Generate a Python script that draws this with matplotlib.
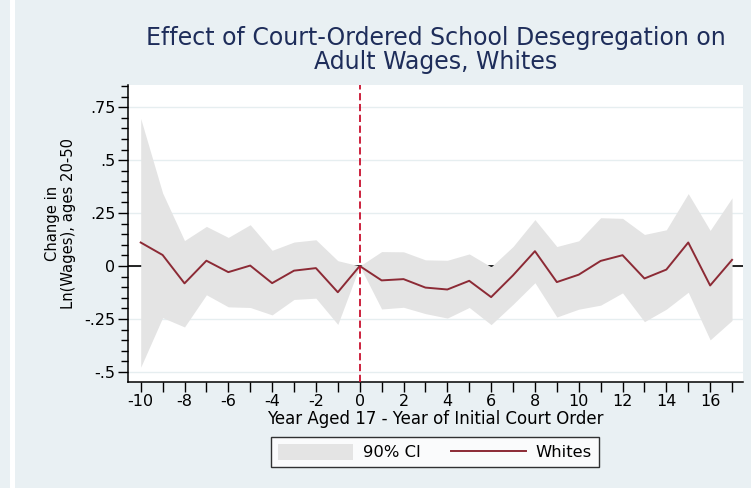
import matplotlib
matplotlib.use("Agg")
import matplotlib.pyplot as plt
from matplotlib.patches import Rectangle, Patch
from matplotlib.lines import Line2D
from matplotlib.ticker import FixedLocator, FixedFormatter, MultipleLocator

plt.rcParams["font.family"] = ["DejaVu Sans"]
plt.rcParams["axes.unicode_minus"] = False

# Event-time relative to initial court order
years = list(range(-10, 18))

# Point estimates (Whites)
estimate = [0.111, 0.052, -0.082, 0.025, -0.029, 0.002, -0.081, -0.022, -0.010, -0.124,
            0.000, -0.068, -0.062, -0.102, -0.111, -0.070, -0.147, -0.044, 0.070, -0.076,
            -0.041, 0.024, 0.051, -0.059, -0.017, 0.111, -0.092, 0.029]

# 90% confidence bounds
ci_upper = [0.697, 0.345, 0.120, 0.187, 0.135, 0.195, 0.074, 0.113, 0.124, 0.025,
            0.000, 0.068, 0.067, 0.029, 0.027, 0.057, -0.004, 0.092, 0.219, 0.092,
            0.119, 0.228, 0.225, 0.149, 0.171, 0.342, 0.168, 0.322]
ci_lower = [-0.478, -0.244, -0.288, -0.136, -0.193, -0.196, -0.231, -0.158, -0.152, -0.276,
            0.000, -0.203, -0.195, -0.225, -0.246, -0.196, -0.277, -0.181, -0.079, -0.241,
            -0.204, -0.185, -0.127, -0.263, -0.204, -0.124, -0.349, -0.257]

y_ticks = [-0.5, -0.25, 0, 0.25, 0.5, 0.75]
y_tick_labels = ["-.5", "-.25", "0", ".25", ".5", ".75"]
x_ticks = list(range(-10, 17, 2))
x_tick_labels = [str(v) for v in x_ticks]

BG = "#e9f0f3"
W, H = 751, 488
fig = plt.figure(figsize=(W / 100, H / 100), dpi=100, facecolor=BG)

# thin white strip near the left edge
fig.patches.append(Rectangle((10 / W, 0), 5 / W, 1, transform=fig.transFigure,
                             facecolor="white", edgecolor="none", zorder=0))

ax = fig.add_axes([128 / W, (H - 382) / H, 615 / W, 297 / H])
ax.set_facecolor("white")

ax.fill_between(years, ci_lower, ci_upper, color="#e4e4e4", linewidth=0, zorder=2)
ax.axhline(0, color="black", linewidth=1.2, zorder=1)
ax.plot(years, estimate, color="#8c2a35", linewidth=1.4, zorder=3)
ax.axvline(0, color="#c8102e", linewidth=1.3, linestyle=(0, (4, 2)), zorder=4)

ax.set_xlim(-10.58, 17.5)
ax.set_ylim(-0.548, 0.855)

for y in y_ticks:
    ax.axhline(y, color="#e6eef0", linewidth=1.0, zorder=0.5)

ax.yaxis.set_major_locator(FixedLocator(y_ticks))
ax.yaxis.set_major_formatter(FixedFormatter(y_tick_labels))
ax.yaxis.set_minor_locator(MultipleLocator(0.05))
ax.xaxis.set_major_locator(FixedLocator(x_ticks))
ax.xaxis.set_major_formatter(FixedFormatter(x_tick_labels))
ax.xaxis.set_minor_locator(MultipleLocator(1))

ax.tick_params(axis="both", which="major", length=7, width=1, labelsize=11.5,
               direction="out", colors="black")
ax.tick_params(axis="y", which="major", pad=2, rotation=0)
ax.tick_params(axis="x", which="major", pad=2)
ax.tick_params(axis="y", which="minor", length=5, width=1)
ax.tick_params(axis="x", which="minor", length=7, width=1)

for s in ["top", "right"]:
    ax.spines[s].set_visible(False)
for s in ["left", "bottom"]:
    ax.spines[s].set_linewidth(1.1)

ax.set_xlabel("Year Aged 17 - Year of Initial Court Order", fontsize=12, labelpad=0)
ax.set_ylabel("Change in\nLn(Wages), ages 20-50", fontsize=10.6, linespacing=1.05)
ax.yaxis.set_label_coords(-0.085, 0.535)

fig.text(435.5 / W, 1 - 50 / H,
         "Effect of Court-Ordered School Desegregation on\nAdult Wages, Whites",
         fontsize=17, color="#1e2d5a", linespacing=0.95, ha="center", va="center")

handles = [Patch(facecolor="#e4e4e4", edgecolor="none"),
           Line2D([], [], color="#8c2a35", linewidth=1.4)]
leg = fig.legend(handles, ["90% CI", "Whites"], ncol=2, loc="center",
                 bbox_to_anchor=(435 / W, 1 - 452 / H), fontsize=11.8,
                 frameon=True, fancybox=False, edgecolor="black",
                 handlelength=4.6, handleheight=1.2, columnspacing=1.8,
                 handletextpad=0.6, borderpad=0.4)
leg.get_frame().set_linewidth(1.0)
leg.get_frame().set_facecolor("white")

fig.savefig("out.png", dpi=100, facecolor=BG)
